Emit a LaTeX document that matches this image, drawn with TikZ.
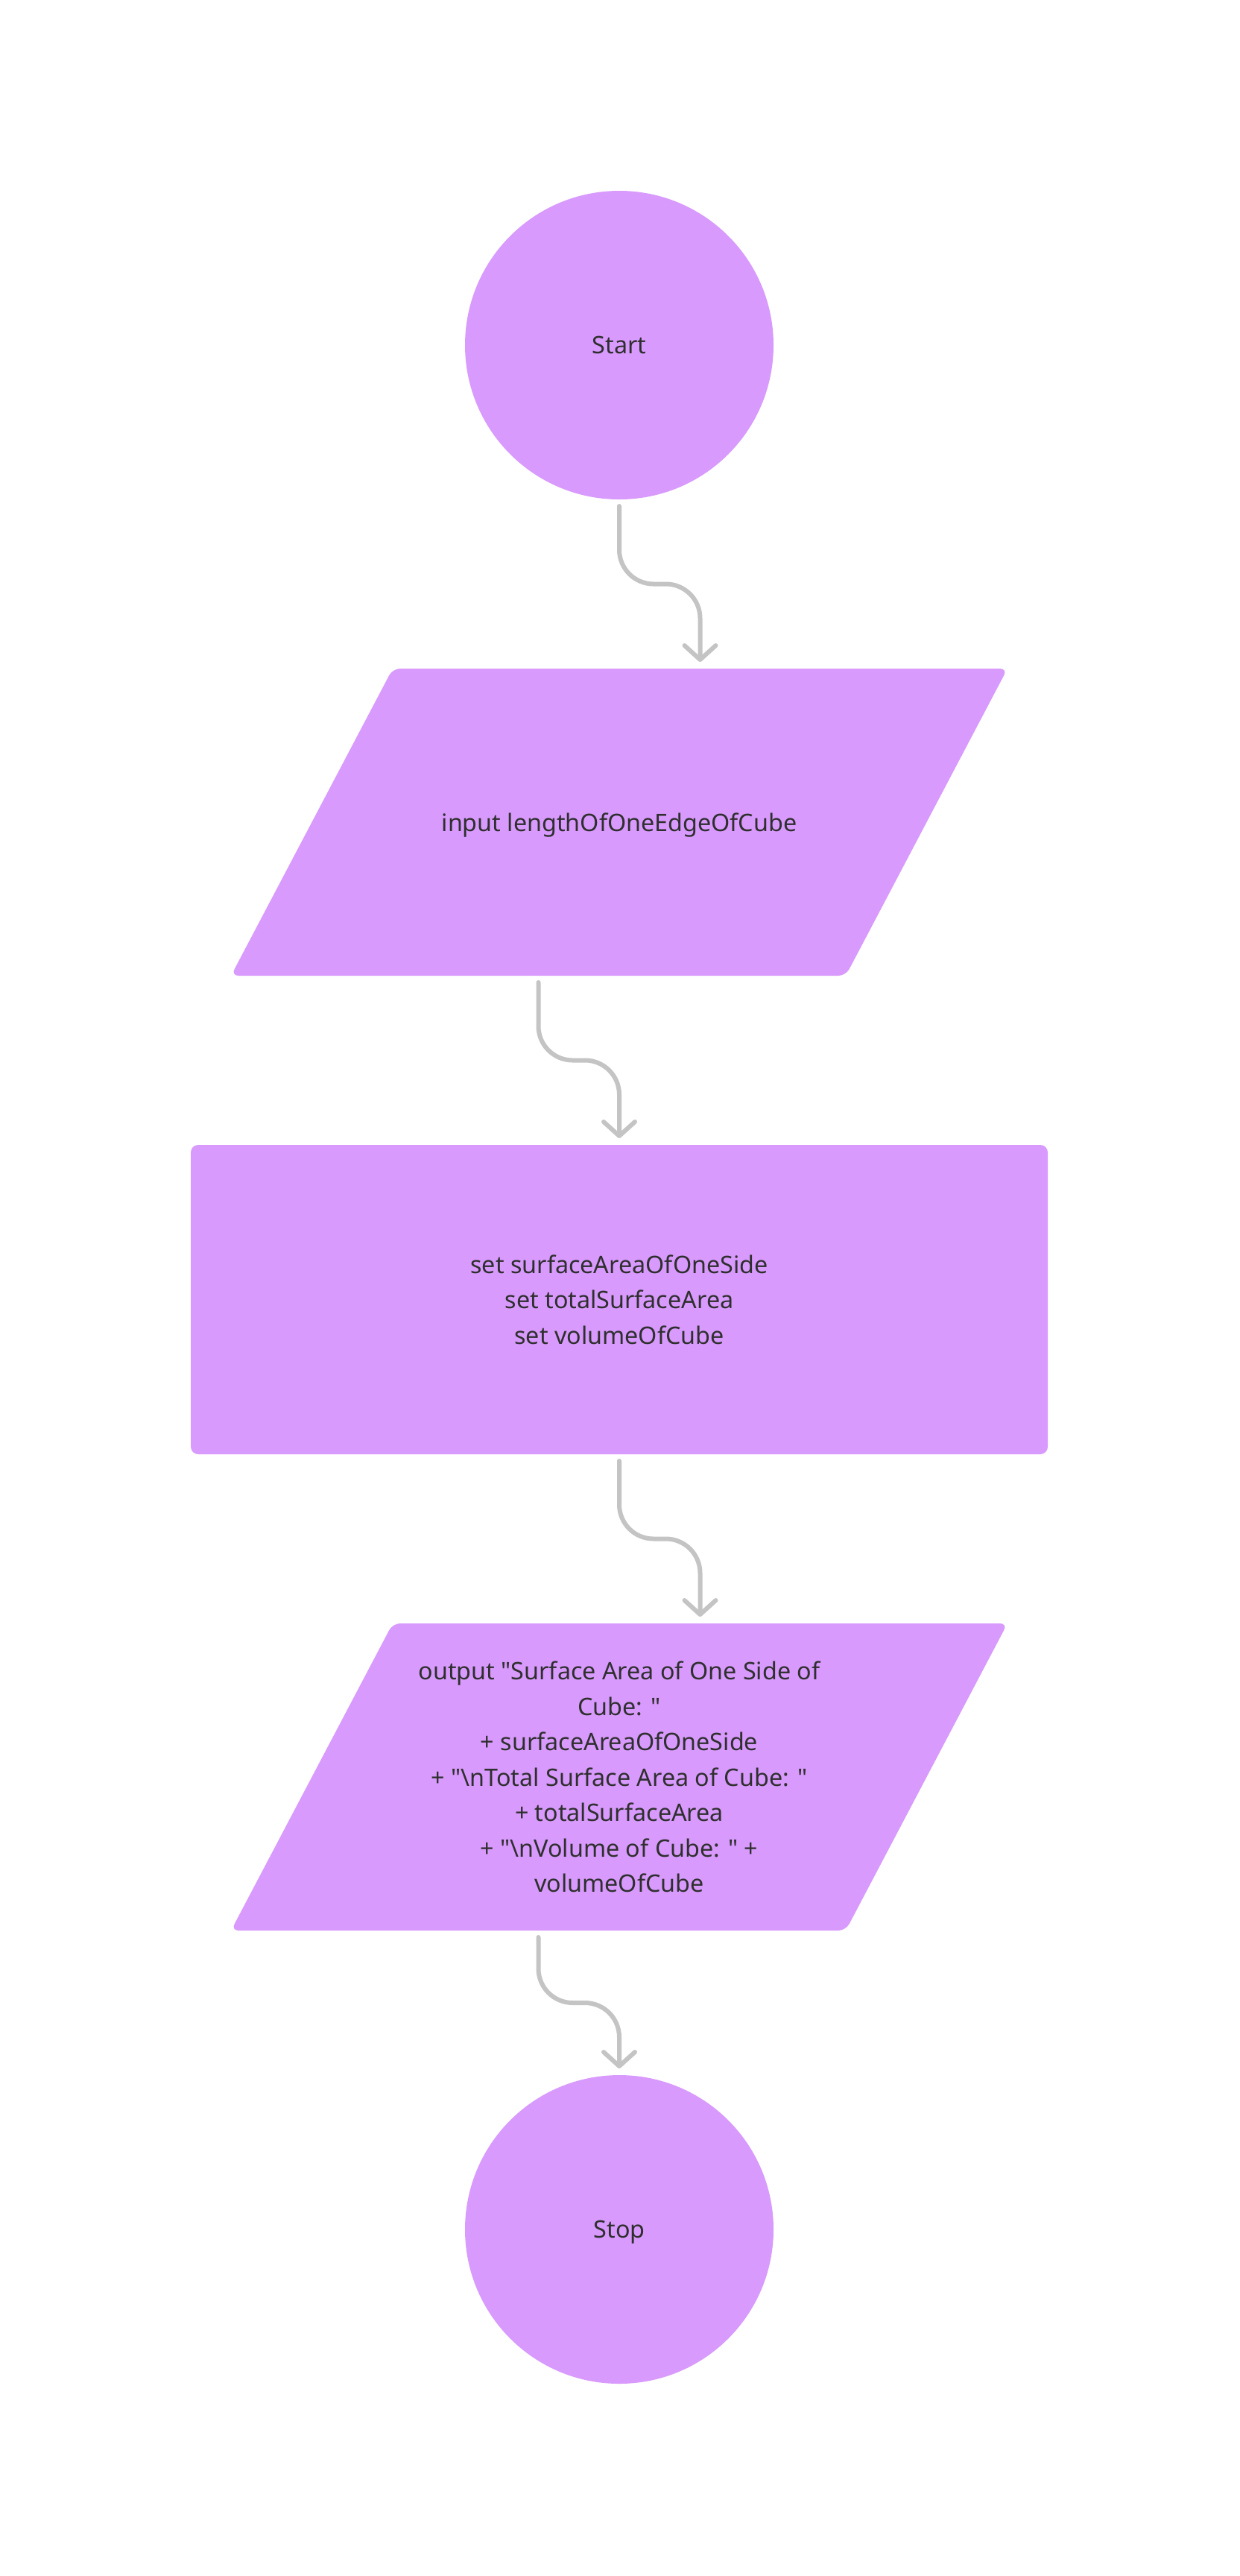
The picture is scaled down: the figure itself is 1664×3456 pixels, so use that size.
\documentclass[tikz,border=0pt]{standalone}
\usepackage{fontspec}
\newfontfamily\flowfont{Noto Sans}
\usetikzlibrary{arrows.meta, calc, backgrounds, positioning}
\definecolor{nodefill}{HTML}{D89AFC}
\definecolor{linkgray}{HTML}{C4C4C4}
\definecolor{textgray}{HTML}{2F2F2F}
\tikzset{
    basenode/.style = {draw=none, text=textgray, inner sep=0pt, outer sep=0pt,
      node distance=0em, align=center, font=\flowfont\fontsize{32.3}{47.5}\selectfont},
    circlenode/.style = {basenode, fill=nodefill, circle, minimum size=414pt, text depth=0pt},
    iotext/.style = {basenode, rectangle, fill=none, minimum width=825pt, minimum height=412pt},
    processnode/.style = {basenode, fill=nodefill, rectangle, minimum width=1150pt, minimum height=415pt,
      rounded corners=10pt},
    connect/.style = {linkgray, line width=6pt, line cap=round, line join=round, rounded corners=46pt,
      shorten <=9pt, shorten >=9pt, -{Straight Barb[length=19pt, width=42pt, round]}}
}

\begin{document}
\begin{tikzpicture}[x=1pt, y=-1pt]
    \useasboundingbox (0,0) rectangle (1664,3456);
    \node[circlenode, name=start] at (831,463) {Start};
    \node[iotext, name=input, below of = start, yshift=-640pt, text depth=0pt] {input lengthOfOneEdgeOfCube};
    \node[processnode, name=calc, below of = input, yshift=-640.5pt] {set surfaceAreaOfOneSide\\
      set totalSurfaceArea\\ set volumeOfCube};
    \node[iotext, name=output, below of = calc, yshift=-640.5pt] {output "Surface Area of One Side of\\
      Cube: "\\ + surfaceAreaOfOneSide\\ + "\textbackslash nTotal Surface Area of Cube: "\\
      + totalSurfaceArea\\ + "\textbackslash nVolume of Cube: " +\\ volumeOfCube};
    \node[circlenode, name=stop, below of = output, yshift=-607pt] {Stop};
    % parallelograms behind the input / output texts
    \begin{scope}[on background layer]
      \fill[white] (0,0) rectangle (1664,3456);
      \foreach \n in {input, output} {
        \fill[nodefill, rounded corners=10pt] ($(\n.north west)+(108.5,0)$) -- ($(\n.north east)+(108.5,0)$)
          -- ($(\n.south east)+(-108.5,0)$) -- ($(\n.south west)+(-108.5,0)$) -- cycle;
        \coordinate (\n-top) at ($(\n.north)+(108.5,0)$);
        \coordinate (\n-bottom) at ($(\n.south)+(-108.5,0)$);
      }
    \end{scope}
    % midpoints of the links
    \coordinate (m1) at ($(start.south)!0.5!(input-top)$);
    \coordinate (m2) at ($(input-bottom)!0.5!(calc.north)$);
    \coordinate (m3) at ($(calc.south)!0.5!(output-top)$);
    \coordinate (m4) at ($(output-bottom)!0.5!(stop.north)$);
    \draw[connect] (start.south) -- (start.south|-m1) -- (input-top|-m1) -- (input-top);
    \draw[connect] (input-bottom) -- (input-bottom|-m2) -- (calc.north|-m2) -- (calc.north);
    \draw[connect] (calc.south) -- (calc.south|-m3) -- (output-top|-m3) -- (output-top);
    \draw[connect] (output-bottom) -- (output-bottom|-m4) -- (stop.north|-m4) -- (stop.north);
\end{tikzpicture}
\end{document}
